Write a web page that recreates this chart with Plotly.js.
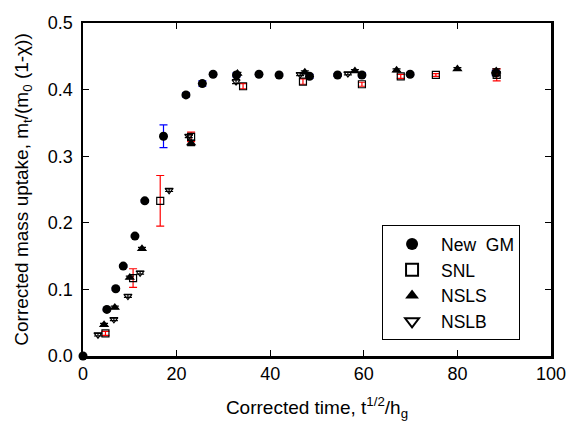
<!DOCTYPE html>
<html><head><meta charset="utf-8">
<script src="https://cdn.plot.ly/plotly-3.0.1.min.js"></script>
<style>html,body{margin:0;padding:0;background:#fff}</style>
</head><body><div id="chart" style="width:568px;height:428px"></div>
<script>
// New GM
const gmX = [0, 5.1, 7.0, 8.6, 11.1, 13.2, 17.2, 22.0, 25.5, 27.8, 32.8, 37.6, 41.9, 48.4, 54.4, 59.6, 69.9, 88.2];
const gmY = [0, 0.070, 0.101, 0.135, 0.180, 0.233, 0.330, 0.392, 0.409, 0.423, 0.422, 0.423, 0.422, 0.420, 0.422, 0.422, 0.423, 0.425];
const gmErr = [0, 0.002, 0.002, 0.002, 0.002, 0.002, 0.017, 0.003, 0.004, 0.002, 0.003, 0.002, 0.002, 0.003, 0.002, 0.003, 0.002, 0.004];
// SNL
const snlX = [4.8, 10.7, 16.5, 23.1, 34.2, 47.0, 59.6, 67.9, 75.4, 88.4];
const snlY = [0.034, 0.117, 0.233, 0.329, 0.405, 0.412, 0.408, 0.420, 0.422, 0.422];
const snlErr = [0.003, 0.014, 0.038, 0.007, 0.004, 0.004, 0.003, 0.003, 0.002, 0.009];
// NSLS
const nslsX = [4.5, 6.8, 10.0, 12.6, 23.1, 33.0, 47.4, 58.1, 67.0, 80.0, 88.3];
const nslsY = [0.047, 0.073, 0.118, 0.161, 0.320, 0.424, 0.426, 0.428, 0.429, 0.431, 0.428];
const nslsErr = [0.002, 0.002, 0.002, 0.002, 0.004, 0.002, 0.002, 0.002, 0.002, 0.002, 0.003];
// NSLB
const nslbX = [3.2, 6.6, 9.6, 12.2, 18.4, 22.6, 32.7, 46.4, 56.6, 88.3];
const nslbY = [0.032, 0.055, 0.090, 0.125, 0.249, 0.330, 0.412, 0.423, 0.424, 0.424];
const nslbErr = [0.002, 0.002, 0.002, 0.002, 0.002, 0.002, 0.003, 0.002, 0.002, 0.003];

const font = 'Liberation Sans, Arial, sans-serif';
function eb(arr, color){ return {type:'data', array:arr, visible:true, color:color, thickness:1.2, width:4}; }

const traces = [
  {x:gmX, y:gmY, name:'New  GM', mode:'markers', type:'scatter', cliponaxis:false,
   marker:{symbol:'circle', size:9, color:'#000'}, error_y:eb(gmErr,'#0000ff')},
  {x:snlX, y:snlY, name:'SNL', mode:'markers', type:'scatter',
   marker:{symbol:'square-open', size:7, color:'#000', line:{width:1.2}}, error_y:eb(snlErr,'#ff0000')},
  {x:nslsX, y:nslsY, name:'NSLS', mode:'markers', type:'scatter',
   marker:{symbol:'triangle-up', size:9, color:'#000'}, error_y:eb(nslsErr,'#000')},
  {x:nslbX, y:nslbY, name:'NSLB', mode:'markers', type:'scatter',
   marker:{symbol:'triangle-down-open', size:7, color:'#000', line:{width:1.2}}, error_y:eb(nslbErr,'#000')}
];

const layout = {
  width:568, height:428,
  margin:{l:83, r:17, t:23, b:72},
  paper_bgcolor:'#fff', plot_bgcolor:'#fff',
  font:{family:font, size:18, color:'#000'},
  showlegend:true,
  legend:{x:0.639, y:0.393, xanchor:'left', yanchor:'top', bordercolor:'#000', borderwidth:1,
          bgcolor:'#fff', font:{family:font, size:17.5}, itemsizing:'constant', tracegroupgap:0,
          itemwidth:48, entrywidth:150, entrywidthmode:'pixels'},
  xaxis:{range:[0,100], dtick:20, tick0:0, ticks:'inside', ticklen:6, tickwidth:1, tickcolor:'#000',
         showline:true, linewidth:2.5, linecolor:'#000', mirror:'ticks', showgrid:false, zeroline:false,
         tickfont:{family:font, size:18},
         title:{text:'Corrected time, t<sup>1/2</sup>/h<sub>g</sub>', font:{family:font, size:19}, standoff:18}},
  yaxis:{range:[0,0.5], dtick:0.1, tick0:0, ticks:'inside', ticklen:6, tickwidth:1, tickcolor:'#000',
         tickformat:'.1f', ticklabelstandoff:4,
         showline:true, linewidth:2.5, linecolor:'#000', mirror:'ticks', showgrid:false, zeroline:false,
         tickfont:{family:font, size:18},
         title:{text:'Corrected mass uptake, m<sub>t</sub>/(m<sub>0</sub> (1-χ))', font:{family:font, size:19}, standoff:14}}
};
Plotly.newPlot('chart', traces, layout, {displayModeBar:false, staticPlot:true});
</script></body></html>
